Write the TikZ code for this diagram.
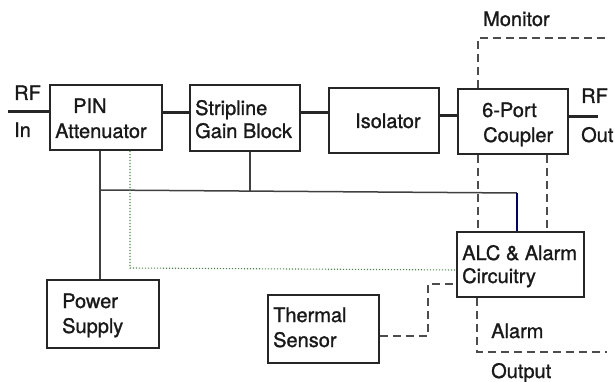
\documentclass[tikz,border=0pt]{standalone}
\usepackage{fontspec}
\setmainfont{TeX Gyre Heros}[UprightFeatures={FakeBold=1.2}]
\begin{document}
\begin{tikzpicture}[x=1pt,y=-1pt,
  box/.style={draw, line width=1.8pt, rectangle, inner sep=0pt, color=black!85},
  lbl/.style={anchor=base west, inner sep=0pt, font=\fontsize{20}{20}\selectfont, text=black!90},
  sig/.style={line width=3pt, color=black!85},
  wire/.style={line width=1.5pt, color=black!75},
  dsh/.style={line width=1.3pt, dash pattern=on 8pt off 5pt, color=black!70},
  dotl/.style={line width=1.1pt, dash pattern=on 1.2pt off 1.8pt, color=black!45!green!40!gray}]
\useasboundingbox (0,0) rectangle (615,382);
% boxes
\node[box, minimum width=112pt, minimum height=65pt] (pin) at (106,117.5) {};
\node[box, minimum width=110pt, minimum height=66pt] (strip) at (245,118) {};
\node[box, minimum width=110pt, minimum height=65pt] (iso) at (384,120.5) {};
\node[box, minimum width=110pt, minimum height=65pt] (coup) at (513,121.5) {};
\node[box, minimum width=127pt, minimum height=65pt] (alc) at (520.5,264.5) {};
\node[box, minimum width=112pt, minimum height=68pt] (psu) at (103,314) {};
\node[box, minimum width=111pt, minimum height=68pt] (therm) at (323.5,329) {};
% texts
\node[lbl] (t1) at (14,100) {RF};
\node[lbl] (t2) at (14,137) {In};
\node[lbl] (t3) at (73,113) {PIN};
\node[lbl] (t4) at (55,138) {Attenuator};
\node[lbl] (t5) at (195,115) {Stripline};
\node[lbl] (t6) at (195,138) {Gain Block};
\node[lbl] (t7) at (355,128) {Isolator};
\node[lbl] (t8) at (482,117) {6-Port};
\node[lbl] (t9) at (483,142) {Coupler};
\node[lbl] (t10) at (581,103) {RF};
\node[lbl] (t11) at (581,142) {Out};
\node[lbl] (t12) at (483,26) {Monitor};
\node[lbl] (t13) at (462,260) {ALC \& Alarm};
\node[lbl] (t14) at (462,283) {Circuitry};
\node[lbl] (t15) at (62,308) {Power};
\node[lbl] (t16) at (62,333) {Supply};
\node[lbl] (t17) at (273,322) {Thermal};
\node[lbl] (t18) at (273,347) {Sensor};
\node[lbl] (t19) at (491,338) {Alarm};
\node[lbl] (t20) at (491,378) {Output};
% coordinates
\coordinate (rfin) at (8,112);
\coordinate (rfout) at (598,117);
\coordinate (s1) at (0,113);
\coordinate (s2) at (0,116);
\coordinate (s3) at (0,117);
\coordinate (j1) at (100,190);
\coordinate (j2) at (250,191);
\coordinate (j3) at (517,193);
\coordinate (d1) at (130,268);
\coordinate (d2) at (457,270);
\coordinate (c1) at (478,0);
\coordinate (c2) at (547,0);
\coordinate (m1) at (478,38);
\coordinate (m2) at (607,38);
\coordinate (th1) at (428,336);
\coordinate (th2) at (428,284);
\coordinate (a1) at (477,352);
\coordinate (a2) at (607,352);
% signal path
\draw[sig] (rfin) -- (pin.west |- rfin);
\draw[sig] (pin.east |- s1) -- (strip.west |- s1);
\draw[sig] (strip.east |- s1) -- (iso.west |- s1);
\draw[sig] (iso.east |- s2) -- (coup.west |- s2);
\draw[sig] (coup.east |- s3) -- (rfout);
% power / control wires
\draw[wire] (pin.south -| j1) -- (psu.north -| j1);
\draw[wire] (j1) -- (j3);
\draw[wire] (strip.south -| j2) -- (j2);
\draw[wire, color=blue!40!black] (j3) -- (alc.north -| j3);
% dotted
\draw[dotl] (pin.south -| d1) -- (d1) -- (d2);
% dashed
\draw[dsh] (coup.south -| c1) -- (alc.north -| c1);
\draw[dsh] (coup.south -| c2) -- (alc.north -| c2);
\draw[dsh] (coup.north -| m1) -- (m1) -- (m2);
\draw[dsh] (therm.east |- th1) -- (th1) -- (th2) -- (alc.west |- th2);
\draw[dsh] (alc.south -| a1) -- (a1) -- (a2);
\end{tikzpicture}
\end{document}
